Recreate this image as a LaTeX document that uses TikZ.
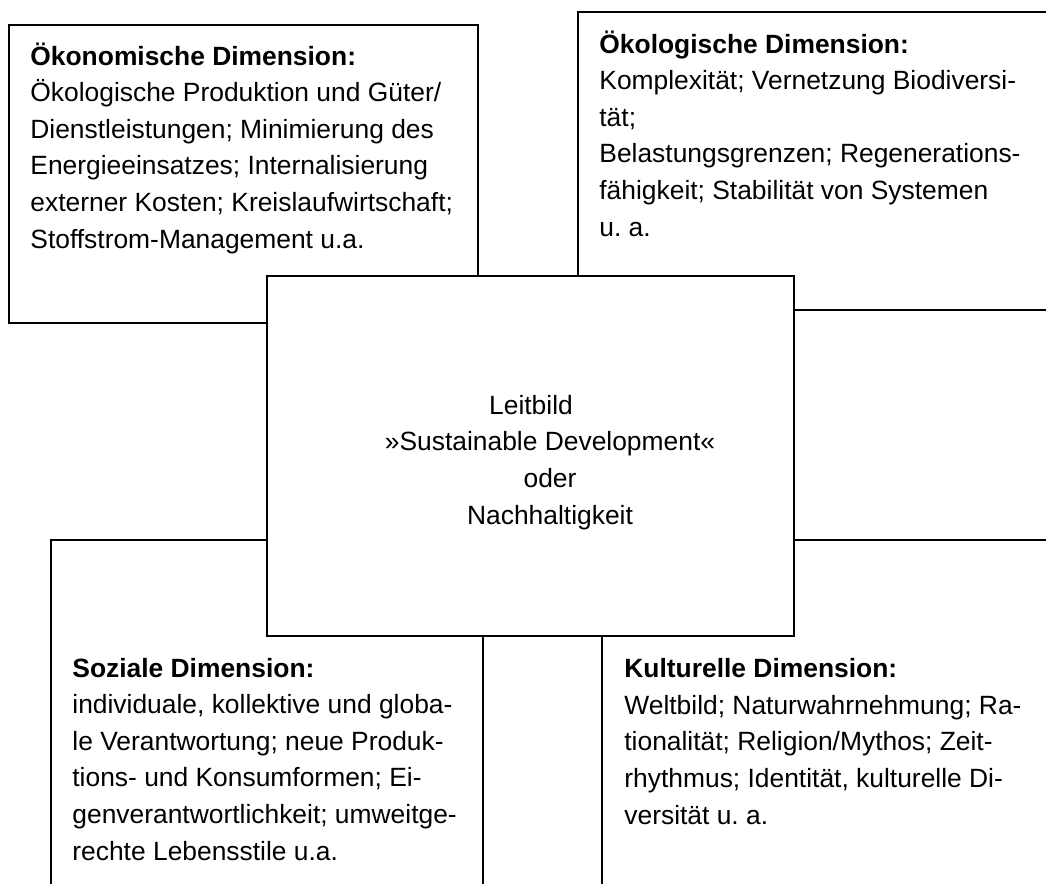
\documentclass[tikz,border=0pt]{standalone}
\usepackage{fontspec}
\setmainfont{Liberation Sans}
\frenchspacing

\begin{document}
\begin{tikzpicture}[x=.5pt, y=-.5pt,
    dimbox/.style={draw, line width=1pt},
    kernbox/.style={draw, line width=1pt, fill=white},
    dimtext/.style={anchor=base west, inner sep=0pt, align=left,
        font=\fontsize{13.2}{18.3}\selectfont},
    kerntext/.style={anchor=base, inner sep=0pt, align=center,
        font=\fontsize{13.2}{18.3}\selectfont}
        ]

    \path [use as bounding box] (0,0) rectangle (1046,884);
    \clip (0,0) rectangle (1046,884);

    % the four dimensions, partly cut by the page
    \draw [dimbox] (9,25) rectangle (478,323);
    \draw [dimbox] (578,12) rectangle (1070,310);
    \draw [dimbox] (51,540) rectangle (483,910);
    \draw [dimbox] (602,540) rectangle (1070,910);

    % Leitbild in the middle, on top
    \draw [kernbox] (267,276) rectangle (794,636);

    % texts are placed at the baseline of their last line
    \node (okon) [dimtext] at (30,248) {\textbf{Ökonomische Dimension:}\\
        Ökologische Produktion und Güter/\\
        Dienstleistungen; Minimierung des\\
        Energieeinsatzes; Internalisierung\\
        externer Kosten; Kreislaufwirtschaft;\\
        Stoffstrom-Management u.a.};

    \node (okol) [dimtext] at (599,236) {\textbf{Ökologische Dimension:}\\
        Komplexität; Vernetzung Biodiversi-\\
        tät;\\
        Belastungsgrenzen; Regenerations-\\
        fähigkeit; Stabilität von Systemen\\
        u. a.};

    \node (sozial) [dimtext] at (72,860) {\textbf{Soziale Dimension:}\\
        individuale, kollektive und globa-\\
        le Verantwortung; neue Produk-\\
        tions- und Konsumformen; Ei-\\
        genverantwortlichkeit; umweitge-\\
        rechte Lebensstile u.a.};

    \node (kultur) [dimtext] at (624,824) {\textbf{Kulturelle Dimension:}\\
        Weltbild; Naturwahrnehmung; Ra-\\
        tionalität; Religion/Mythos; Zeit-\\
        rhythmus; Identität, kulturelle Di-\\
        versität u. a.};

    \node (leitbild) [kerntext] at (550,524) {Leitbild\hspace*{19pt}\\
        »Sustainable Development«\\
        oder\\
        Nachhaltigkeit};

\end{tikzpicture}
\end{document}
